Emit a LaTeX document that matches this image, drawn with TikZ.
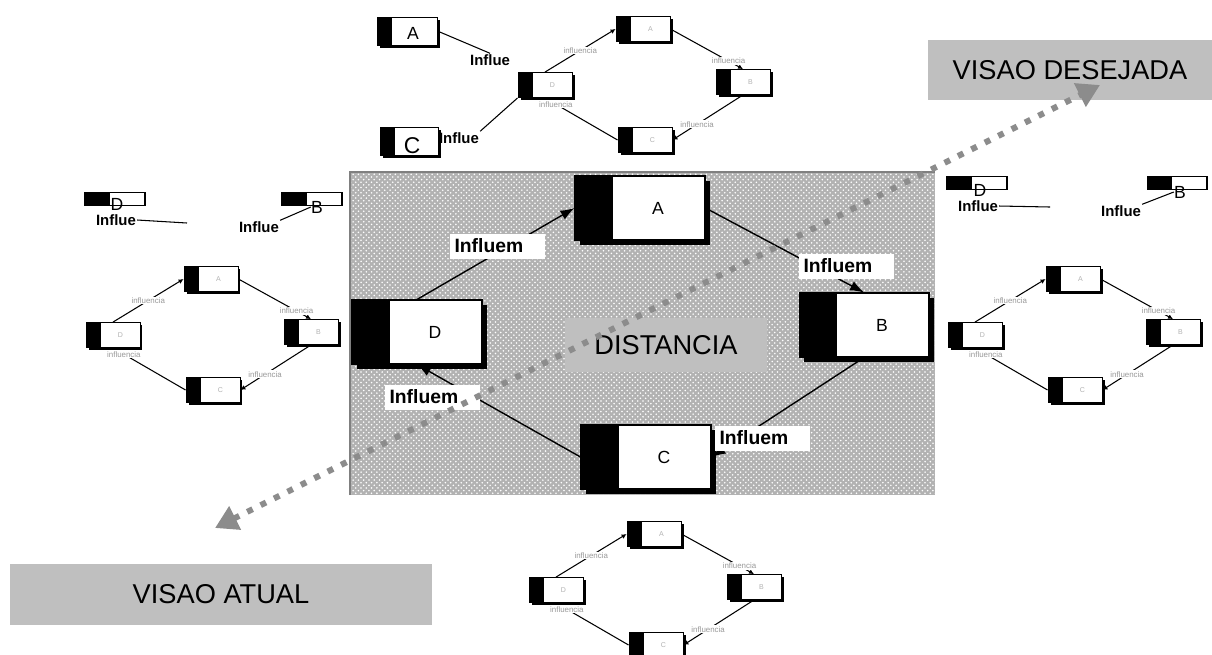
\documentclass[tikz,border=0pt]{standalone}
\usepackage{fontspec}
\setmainfont{Liberation Sans}
\usetikzlibrary{arrows.meta,shadows,patterns}

\begin{document}
\begin{tikzpicture}[x=0.02cm, y=-0.02cm]
    \tikzstyle{bloco} = [draw, fill=white, line width=0.6pt, inner sep=0pt,
        minimum width=2.6cm, minimum height=1.28cm,
        path picture={\fill[black] (path picture bounding box.south west) rectangle ([xshift=0.76cm]path picture bounding box.north west);},
        general shadow={fill=black, shadow xshift=0.1cm, shadow yshift=-0.1cm}]
    \tikzstyle{blocopeq} = [draw, fill=white, line width=0.5pt, inner sep=0pt,
        minimum width=1.08cm, minimum height=0.5cm,
        path picture={\fill[black] (path picture bounding box.south west) rectangle ([xshift=0.3cm]path picture bounding box.north west);},
        general shadow={fill=black, shadow xshift=0.05cm, shadow yshift=-0.05cm}]
    \tikzstyle{barra} = [draw, fill=white, line width=0.6pt, inner sep=0pt,
        minimum width=1.2cm, minimum height=0.26cm,
        path picture={\fill[black] (path picture bounding box.south west) rectangle ([xshift=0.5cm]path picture bounding box.north west);}]
    \tikzstyle{letra} = [xshift=0.36cm, font=\fontsize{10}{12}\selectfont]
    \tikzstyle{letrapeq} = [xshift=0.15cm, font=\fontsize{4}{5}\selectfont, text=black!30]
    \tikzstyle{letrabarra} = [font=\fontsize{10}{12}\selectfont, inner sep=0pt]
    \tikzstyle{cinza} = [fill=black!25, font=\fontsize{15.5}{18}\selectfont]
    \tikzstyle{rotulo} = [fill=white, inner xsep=0.1cm, inner ysep=0pt, text width=1.7cm,
        minimum height=0.5cm, align=left, font=\bfseries\fontsize{11}{13}\selectfont]
    \tikzstyle{influ} = [fill=white, inner sep=0.5pt, font=\fontsize{4.5}{5}\selectfont, text=black!40]
    \tikzstyle{influe} = [inner sep=0.5pt, font=\bfseries\fontsize{8.5}{10}\selectfont]
    \tikzstyle{seta} = [line width=0.8pt, -{Latex[length=0.28cm, width=0.2cm]}]
    \tikzstyle{setapeq} = [line width=0.6pt, -{Latex[length=0.1cm, width=0.1cm]}]

    \useasboundingbox (0,0) rectangle (1212,654);

    % area da distancia
    \fill[black!30] (350,172) rectangle (935,495);
    \fill[pattern=crosshatch dots, pattern color=white] (350,172) rectangle (935,495);
    \draw[black!50, line width=1.5pt] (350,495) -- (350,172) -- (935,172);

    \node[cinza, minimum width=4.04cm, minimum height=1.08cm] (dist) at (666,345) {DISTANCIA};

    \node[bloco, label={[letra]center:A}] (a) at (640,208) {};
    \node[bloco, label={[letra]center:B}] (b) at (864,325) {};
    \node[bloco, label={[letra]center:C}] (c) at (646,457) {};
    \node[bloco, label={[letra]center:D}] (d) at (417,332) {};

    \draw[seta] (d.north) -- (a.west);
    \draw[seta] (a.east)  -- (b.north);
    \draw[seta] (b.south) -- (c.east);
    \draw[seta] (c.west)  -- (d.south);

    \node[rotulo] (lDA) at (497,246) {Influem};
    \node[rotulo] (lAB) at (846,266) {Influem};
    \node[rotulo] (lBC) at (762,438) {Influem};
    \node[rotulo] (lCD) at (432,397) {Influem};

    % visoes
    \node[cinza, minimum width=5.68cm, minimum height=1.2cm] (desejada) at (1070,70) {VISAO DESEJADA};
    \node[cinza, minimum width=8.44cm, minimum height=1.22cm] (atual) at (221,594) {VISAO ATUAL};

    % copia de cima
    \node[blocopeq, label={[letrapeq]center:A}] (t1a) at (643,29) {};
    \node[blocopeq, label={[letrapeq]center:B}] (t1b) at (743,82) {};
    \node[blocopeq, label={[letrapeq]center:C}] (t1c) at (645,140) {};
    \node[blocopeq, label={[letrapeq]center:D}] (t1d) at (545,85) {};
    \draw[setapeq] (t1d.north) -- node[influ, pos=.5]  {influencia} (t1a.west);
    \draw[setapeq] (t1a.east)  -- node[influ, pos=.8]  {influencia} (t1b.north);
    \draw[setapeq] (t1b.south) -- node[influ, pos=.65] {influencia} (t1c.east);
    \draw[setapeq] (t1c.west)  -- node[influ, pos=.85] {influencia} (t1d.south);

    \node[blocopeq, minimum width=1.2cm, minimum height=0.56cm] (bxA) at (407,31) {};
    \node[letrabarra] (letA) at (413,33) {A};
    \node[influe] (inA) at (490,60) {Influe};
    \draw[line width=0.6pt] (bxA.east) -- (inA.north);
    \node[blocopeq, minimum width=1.16cm, minimum height=0.56cm] (bxC) at (409,141) {};
    \node[letrabarra, font=\fontsize{13}{15}\selectfont] (letC) at (412,146) {C};
    \node[influe] (inC) at (459,138) {Influe};
    \draw[line width=0.6pt] (inC.north east) -- (t1d.south west);

    % copia da esquerda
    \node[blocopeq, label={[letrapeq]center:A}] (t2a) at (211,279) {};
    \node[blocopeq, label={[letrapeq]center:B}] (t2b) at (311,332) {};
    \node[blocopeq, label={[letrapeq]center:C}] (t2c) at (213,390) {};
    \node[blocopeq, label={[letrapeq]center:D}] (t2d) at (113,335) {};
    \draw[setapeq] (t2d.north) -- node[influ, pos=.5]  {influencia} (t2a.west);
    \draw[setapeq] (t2a.east)  -- node[influ, pos=.8]  {influencia} (t2b.north);
    \draw[setapeq] (t2b.south) -- node[influ, pos=.65] {influencia} (t2c.east);
    \draw[setapeq] (t2c.west)  -- node[influ, pos=.85] {influencia} (t2d.south);

    \node[barra] (br1) at (115,199) {};
    \node[letrabarra] (letD1) at (117,204) {D};
    \node[influe] (inD1) at (116,220) {Influe};
    \coordinate (fimD1) at (187,223);
    \draw[line width=0.6pt] (inD1.east) -- (fimD1);
    \node[barra] (br2) at (312,199) {};
    \node[letrabarra] (letB1) at (317,207) {B};
    \node[influe] (inB1) at (259,227) {Influe};
    \draw[line width=0.6pt] (inB1.north east) -- (letB1.west);

    % copia da direita
    \node[blocopeq, label={[letrapeq]center:A}] (t3a) at (1073,279) {};
    \node[blocopeq, label={[letrapeq]center:B}] (t3b) at (1173,332) {};
    \node[blocopeq, label={[letrapeq]center:C}] (t3c) at (1075,390) {};
    \node[blocopeq, label={[letrapeq]center:D}] (t3d) at (975,335) {};
    \draw[setapeq] (t3d.north) -- node[influ, pos=.5]  {influencia} (t3a.west);
    \draw[setapeq] (t3a.east)  -- node[influ, pos=.8]  {influencia} (t3b.north);
    \draw[setapeq] (t3b.south) -- node[influ, pos=.65] {influencia} (t3c.east);
    \draw[setapeq] (t3c.west)  -- node[influ, pos=.85] {influencia} (t3d.south);

    \node[barra] (br3) at (977,183) {};
    \node[letrabarra] (letD2) at (980,190) {D};
    \node[influe] (inD2) at (978,206) {Influe};
    \coordinate (fimD2) at (1050,207);
    \draw[line width=0.6pt] (inD2.east) -- (fimD2);
    \node[barra] (br4) at (1177,183) {};
    \node[letrabarra] (letB2) at (1180,192) {B};
    \node[influe] (inB2) at (1121,211) {Influe};
    \draw[line width=0.6pt] (inB2.north east) -- (letB2.west);

    % copia de baixo
    \node[blocopeq, label={[letrapeq]center:A}] (t4a) at (654,534) {};
    \node[blocopeq, label={[letrapeq]center:B}] (t4b) at (754,587) {};
    \node[blocopeq, label={[letrapeq]center:C}] (t4c) at (656,645) {};
    \node[blocopeq, label={[letrapeq]center:D}] (t4d) at (556,590) {};
    \draw[setapeq] (t4d.north) -- node[influ, pos=.5]  {influencia} (t4a.west);
    \draw[setapeq] (t4a.east)  -- node[influ, pos=.8]  {influencia} (t4b.north);
    \draw[setapeq] (t4b.south) -- node[influ, pos=.65] {influencia} (t4c.east);
    \draw[setapeq] (t4c.west)  -- node[influ, pos=.85] {influencia} (t4d.south);

    % seta pontilhada
    \coordinate (pontaAtual) at (215,528);
    \coordinate (pontaDesejada) at (1100,85);
    \draw[black!45, line width=0.12cm, dash pattern=on 0.12cm off 0.18cm,
        {Triangle[width=0.5cm, length=0.45cm]}-{Triangle[width=0.5cm, length=0.45cm]}]
        (pontaAtual) -- (pontaDesejada);

\end{tikzpicture}
\end{document}
